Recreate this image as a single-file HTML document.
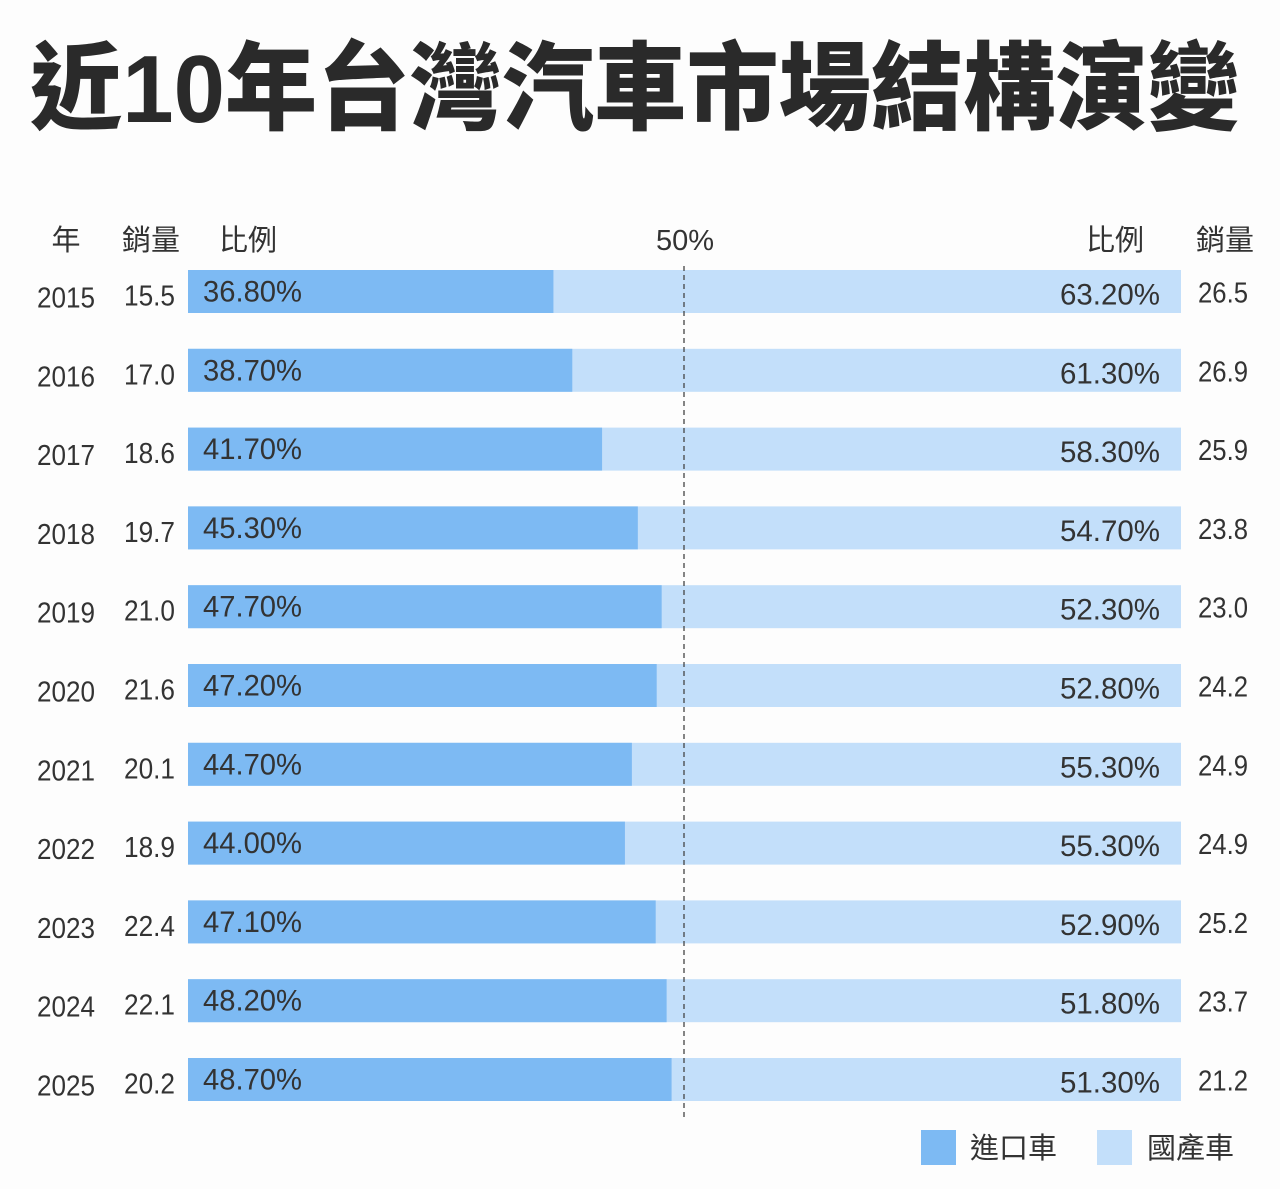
<!DOCTYPE html>
<html><head><meta charset="utf-8"><style>
body{margin:0;width:1280px;height:1184px;background:#fdfdfd;overflow:hidden;font-family:"Liberation Sans","Noto Sans CJK TC",sans-serif;color:#333}
svg text{font-family:"Liberation Sans","Noto Sans CJK TC",sans-serif;fill:#333}
</style></head><body>
<svg id="c" width="1280" height="1184">
<text x="30" y="122" font-size="96" font-weight="900" textLength="1210" lengthAdjust="spacingAndGlyphs" style="fill:#2a2a2a">近10年台灣汽車市場結構演變</text>
<g font-size="29">
<text x="66" y="250" text-anchor="middle">年</text>
<text x="151" y="250" text-anchor="middle">銷量</text>
<text x="248" y="250" text-anchor="middle">比例</text>
<text x="685" y="250" text-anchor="middle">50%</text>
<text x="1115" y="250" text-anchor="middle">比例</text>
<text x="1225" y="250" text-anchor="middle">銷量</text>
</g>
<g id="rows"></g>
<line x1="684" y1="266" x2="684" y2="1120" stroke="#444" stroke-width="1.3" stroke-dasharray="5,4"/>
<rect x="921" y="1130" width="35" height="35" fill="#7dbaf3"/>
<text x="970" y="1158" font-size="29">進口車</text>
<rect x="1097" y="1130" width="35" height="35" fill="#c3dffa"/>
<text x="1147" y="1158" font-size="29">國產車</text>
</svg>
<script>
const years=["2015","2016","2017","2018","2019","2020","2021","2022","2023","2024","2025"];
const importSales=["15.5","17.0","18.6","19.7","21.0","21.6","20.1","18.9","22.4","22.1","20.2"];
const importShare=[36.8,38.7,41.7,45.3,47.7,47.2,44.7,44.0,47.1,48.2,48.7];
const domesticShare=[63.2,61.3,58.3,54.7,52.3,52.8,55.3,55.3,52.9,51.8,51.3];
const domesticSales=["26.5","26.9","25.9","23.8","23.0","24.2","24.9","24.9","25.2","23.7","21.2"];
const X0=188,X1=1181,Y0=270,STEP=78.8,BH=43;
const xs=v=>X0+(X1-X0)*v/100;
const ys=i=>Y0+i*STEP;
const NS="http://www.w3.org/2000/svg",g=document.getElementById('rows');
function mk(tag,a,txt){const e=document.createElementNS(NS,tag);for(const k in a)e.setAttribute(k,a[k]);if(txt!=null)e.textContent=txt;g.appendChild(e);return e;}
years.forEach((yr,i)=>{
 const y=ys(i),ty=y+BH/2+11;
 let e;
 e=mk('rect',{x:X0,y:y,width:X1-X0,height:BH,fill:'#c3dffa'});
 
 
 e=mk('rect',{x:X0,y:y,width:xs(importShare[i])-X0,height:BH,fill:'#7dbaf3'});
 
 
 e=mk('text',{x:37,y:ty+5,'font-size':29,textLength:58,lengthAdjust:'spacingAndGlyphs'},yr);
 
 
 e=mk('text',{x:124,y:ty+3,'font-size':29,textLength:51,lengthAdjust:'spacingAndGlyphs'},importSales[i]);
 
 
 e=mk('text',{x:203,y:ty-1,'font-size':30,textLength:99,lengthAdjust:'spacingAndGlyphs'},importShare[i].toFixed(2)+'%');
 
 
 e=mk('text',{x:1060,y:ty+2,'font-size':30,textLength:100,lengthAdjust:'spacingAndGlyphs'},domesticShare[i].toFixed(2)+'%');
 
 
 e=mk('text',{x:1198,y:ty,'font-size':29,textLength:50,lengthAdjust:'spacingAndGlyphs'},domesticSales[i]);
 
 
});
</script>
</body></html>
